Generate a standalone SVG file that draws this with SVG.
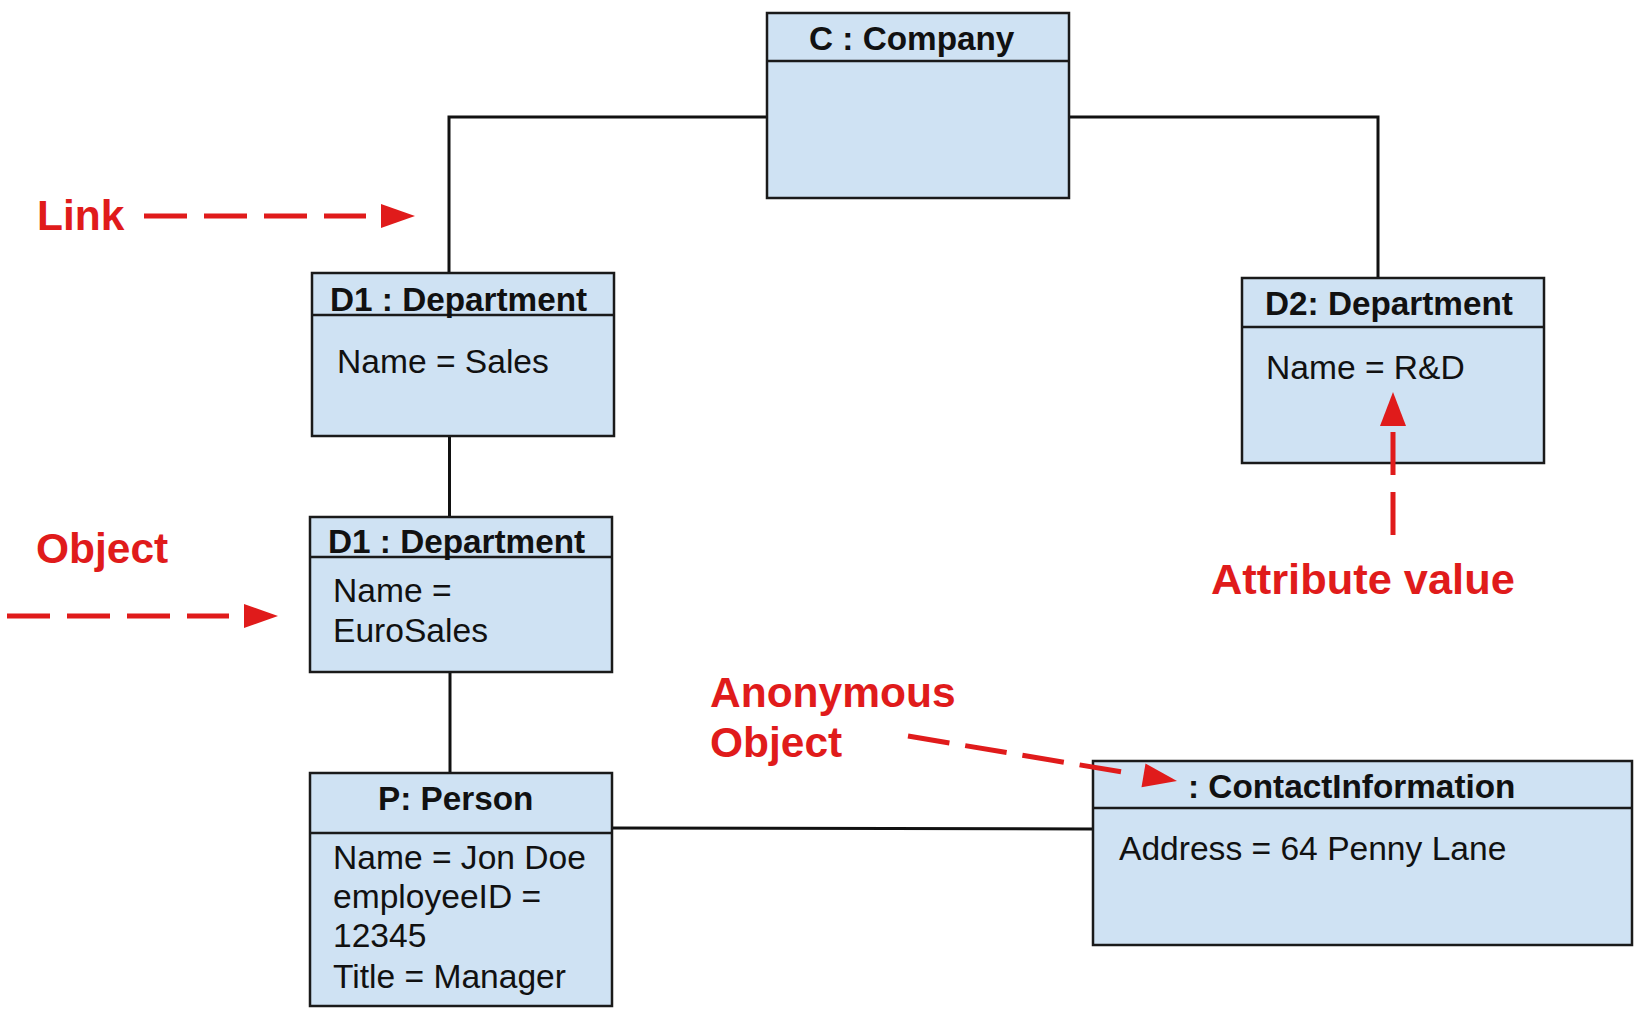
<svg xmlns="http://www.w3.org/2000/svg" width="1651" height="1021" viewBox="0 0 1651 1021">
<style>
.box{fill:#cfe2f3;stroke:#1a1a1a;stroke-width:2.5}
.div{stroke:#1a1a1a;stroke-width:2.5}
.title{font-family:"Liberation Sans",Arial,sans-serif;font-weight:bold;font-size:33.3px;fill:#111}
.attr{font-family:"Liberation Sans",Arial,sans-serif;font-size:33.6px;fill:#111}
.conn{fill:none;stroke:#111;stroke-width:3}
.note{font-family:"Liberation Sans",Arial,sans-serif;font-weight:bold;font-size:42.5px;fill:#e01b1b}
.dash{fill:none;stroke:#e01b1b;stroke-width:5;stroke-dasharray:43 17}
.head{fill:#e01b1b}
</style>
<rect width="1651" height="1021" fill="#ffffff"/>
<g id="connectors">
<path class="conn" d="M767,117 H449 V273"/>
<path class="conn" d="M1069,117 H1378 V278"/>
<path class="conn" d="M449.5,436 V517"/>
<path class="conn" d="M450,672 V773"/>
<path class="conn" d="M612,828 L1093,829"/>
</g>
<g id="company">
<rect class="box" x="767" y="13" width="302" height="185"/>
<line class="div" x1="767" y1="61" x2="1069" y2="61"/>
<text class="title" x="809" y="50">C : Company</text>
</g>
<g id="d1-sales">
<rect class="box" x="312" y="273" width="302" height="163"/>
<line class="div" x1="312" y1="315" x2="614" y2="315"/>
<text class="title" x="330" y="311">D1 : Department</text>
<text class="attr" x="337" y="373">Name = Sales</text>
</g>
<g id="d1-eurosales">
<rect class="box" x="310" y="517" width="302" height="155"/>
<line class="div" x1="310" y1="557" x2="612" y2="557"/>
<text class="title" x="328" y="553">D1 : Department</text>
<text class="attr" x="333" y="602">Name =</text>
<text class="attr" x="333" y="642">EuroSales</text>
</g>
<g id="d2-rnd">
<rect class="box" x="1242" y="278" width="302" height="185"/>
<line class="div" x1="1242" y1="327" x2="1544" y2="327"/>
<text class="title" x="1265" y="315">D2: Department</text>
<text class="attr" x="1266" y="379">Name = R&amp;D</text>
</g>
<g id="person">
<rect class="box" x="310" y="773" width="302" height="233"/>
<line class="div" x1="310" y1="833" x2="612" y2="833"/>
<text class="title" x="378" y="810">P: Person</text>
<text class="attr" x="333" y="869">Name = Jon Doe</text>
<text class="attr" x="333" y="908">employeeID =</text>
<text class="attr" x="333" y="947">12345</text>
<text class="attr" x="333" y="988">Title = Manager</text>
</g>
<g id="contact">
<rect class="box" x="1093" y="761" width="539" height="184"/>
<line class="div" x1="1093" y1="808" x2="1632" y2="808"/>
<text class="title" x="1188" y="798">: ContactInformation</text>
<text class="attr" x="1119" y="860">Address = 64 Penny Lane</text>
</g>
<g id="annotations">
<text class="note" x="37" y="230">Link</text>
<line class="dash" x1="144" y1="216" x2="366" y2="216"/>
<polygon class="head" points="381,204 415,216 381,228"/>
<text class="note" x="36" y="563">Object</text>
<line class="dash" x1="7" y1="616" x2="229" y2="616"/>
<polygon class="head" points="244,604 278,616 244,628"/>
<line class="dash" x1="1393" y1="535" x2="1393" y2="432"/>
<polygon class="head" points="1393,392 1406,426 1380,426"/>
<text class="note" x="1211" y="594" style="font-size:43.4px">Attribute value</text>
<text class="note" x="710" y="707">Anonymous</text>
<text class="note" x="710" y="757">Object</text>
<line class="dash" x1="908" y1="736" x2="1128" y2="773" style="stroke-dasharray:42 16"/>
<polygon class="head" points="1177,781 1145.5,763.6 1141.5,787.2"/>
</g>
</svg>
